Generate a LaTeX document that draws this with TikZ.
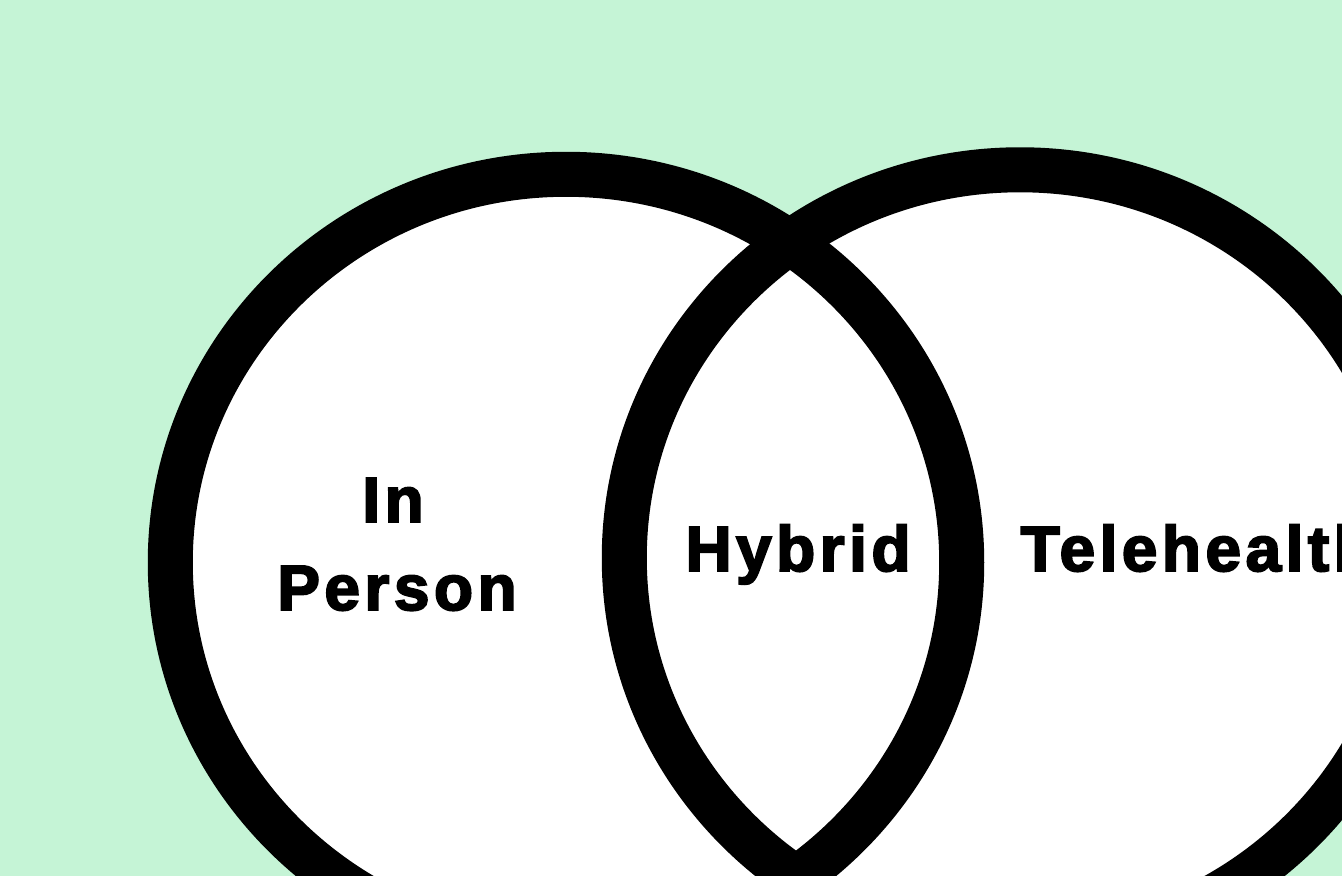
\documentclass[tikz,border=0pt]{standalone}
\usepackage{fontspec}
\setmainfont{Liberation Sans}
\newfontfamily\labelfont[LetterSpace=7,FakeBold=3]{Liberation Sans Bold}
\definecolor{bggreen}{HTML}{C5F4D6}
\begin{document}
\begin{tikzpicture}[x=0.01cm,y=-0.01cm,
  ring/.style={draw=black,line width=0.45cm},
  lbl/.style={font=\labelfont\fontsize{18.2pt}{22pt}\selectfont,inner sep=0pt,anchor=base}]
\useasboundingbox (0,0) rectangle (1342,876);
\fill[bggreen] (0,0) rectangle (1342,876);
\begin{scope}
\clip (0,0) rectangle (1342,876);
\fill[white] (566,562.5) ellipse[x radius=3.955cm,y radius=3.88cm];
\fill[white] (1020,558) ellipse[x radius=3.955cm,y radius=3.88cm];
\draw[ring] (566,562.5) ellipse[x radius=3.955cm,y radius=3.88cm];
\draw[ring] (1020,558) ellipse[x radius=3.955cm,y radius=3.88cm];
\node[lbl] (in) at (393,522) {In};
\node[lbl] (person) at (397,610) {Person};
\node[lbl] (hybrid) at (798,571) {Hybrid};
\node[lbl,anchor=base west] (tele) at (1020,571) {Telehealth};
\end{scope}
\end{tikzpicture}
\end{document}
